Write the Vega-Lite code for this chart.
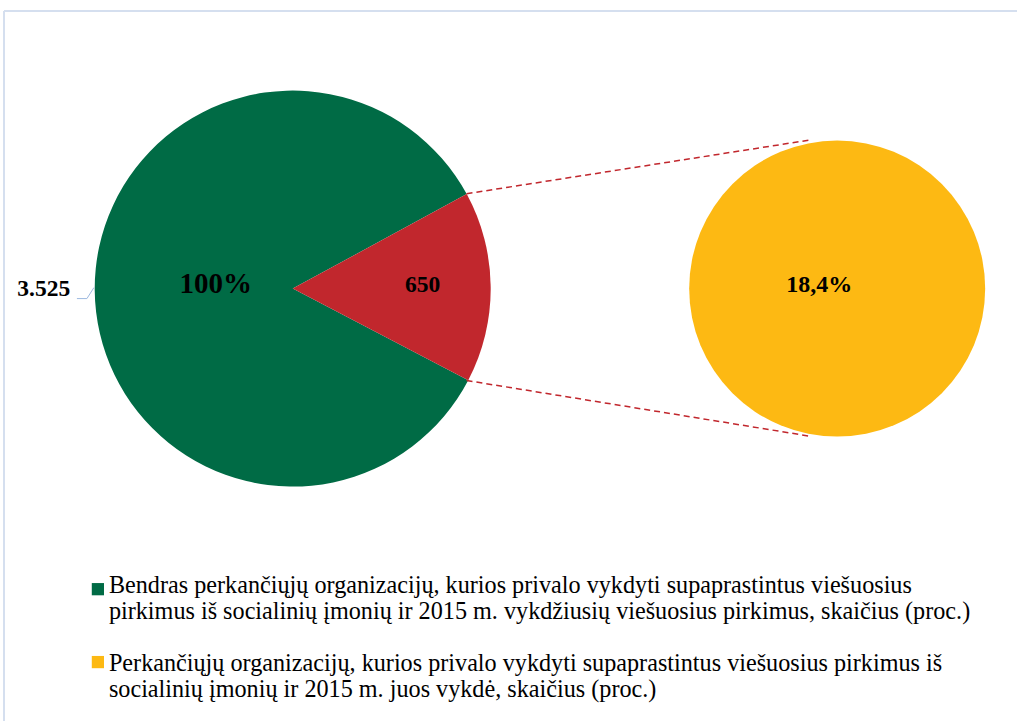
{
  "$schema": "https://vega.github.io/schema/vega-lite/v6.json",
  "width": 1018,
  "height": 722,
  "autosize": {"type": "fit", "contains": "padding"},
  "padding": 0,
  "background": "white",
  "config": {
    "view": {"stroke": null},
    "locale": {"number": {"decimal": ",", "thousands": ".", "grouping": [3], "currency": ["", " €"]}},
    "text": {"font": "Liberation Serif"}
  },
  "datasets": {
    "pagrindinis": [
      {"dalis": "Bendras", "reiksme": 3525, "proc": 1},
      {"dalis": "Vykdė", "reiksme": 650, "proc": 0.184}
    ],
    "antrinis": [
      {"dalis": "Vykdė", "reiksme": 650, "proc": 0.184}
    ],
    "legenda": [
      {"kategorija": "Bendras", "tekstas": "Bendras perkančiųjų organizacijų, kurios privalo vykdyti supaprastintus viešuosius\npirkimus iš socialinių įmonių ir 2015 m. vykdžiusių viešuosius pirkimus, skaičius (proc.)"},
      {"kategorija": "Vykdė", "tekstas": "Perkančiųjų organizacijų, kurios privalo vykdyti supaprastintus viešuosius pirkimus iš\nsocialinių įmonių ir 2015 m. juos vykdė, skaičius (proc.)"}
    ]
  },
  "resolve": {"scale": {"theta": "independent", "color": "independent"}},
  "layer": [
    {
      "data": {"values": [{}]},
      "mark": {"type": "rule", "color": "#D5DFEF", "strokeWidth": 2},
      "encoding": {
        "x": {"datum": 4, "type": "quantitative", "scale": {"domain": [0, 1018], "nice": false, "zero": false}, "axis": null},
        "y": {"datum": 11, "type": "quantitative", "scale": {"domain": [0, 722], "nice": false, "zero": false, "reverse": true}, "axis": null},
        "x2": {"datum": 1018},
        "y2": {"datum": 11}
      }
    },
    {
      "data": {"values": [{}]},
      "mark": {"type": "rule", "color": "#D5DFEF", "strokeWidth": 2},
      "encoding": {
        "x": {"datum": 4, "type": "quantitative"},
        "y": {"datum": 11, "type": "quantitative"},
        "x2": {"datum": 4},
        "y2": {"datum": 722}
      }
    },
    {
      "data": {"name": "pagrindinis"},
      "encoding": {
        "x": {"datum": 293, "type": "quantitative"},
        "y": {"datum": 289, "type": "quantitative"},
        "theta": {"field": "reiksme", "type": "quantitative", "stack": true, "scale": {"range": [2.0516, 8.3348]}},
        "order": {"field": "reiksme", "sort": "descending"}
      },
      "layer": [
        {
          "mark": {"type": "arc", "radius": 198},
          "encoding": {
            "color": {"field": "dalis", "type": "nominal", "scale": {"domain": ["Bendras", "Vykdė"], "range": ["#006B45", "#C1272D"]}, "legend": null}
          }
        },
        {
          "mark": {"type": "text", "radius": 77, "fontSize": 29, "fontWeight": "bold", "align": "center", "baseline": "alphabetic", "dy": 4, "color": "black"},
          "encoding": {
            "text": {"condition": {"test": "datum.dalis === 'Bendras'", "field": "proc", "type": "quantitative", "format": ".0%"}, "value": ""}
          }
        },
        {
          "mark": {"type": "text", "radius": 130, "fontSize": 23.5, "fontWeight": "bold", "align": "center", "baseline": "alphabetic", "dy": 4.5, "color": "black"},
          "encoding": {
            "text": {"condition": {"test": "datum.dalis === 'Vykdė'", "field": "reiksme", "type": "quantitative", "format": ",d"}, "value": ""}
          }
        },
        {
          "mark": {"type": "text", "radius": 249, "fontSize": 23.5, "fontWeight": "bold", "align": "center", "baseline": "alphabetic", "dy": 5, "color": "black"},
          "encoding": {
            "text": {"condition": {"test": "datum.dalis === 'Bendras'", "field": "reiksme", "type": "quantitative", "format": ",d"}, "value": ""}
          }
        }
      ]
    },
    {
      "data": {"name": "antrinis"},
      "encoding": {
        "x": {"datum": 838, "type": "quantitative"},
        "y": {"datum": 289, "type": "quantitative"}
      },
      "layer": [
        {
          "mark": {"type": "arc", "radius": 148, "color": "#FDB913"},
          "encoding": {
            "theta": {"field": "reiksme", "type": "quantitative"}
          }
        },
        {
          "mark": {"type": "text", "fontSize": 24, "fontWeight": "bold", "align": "center", "baseline": "alphabetic", "dx": -18, "dy": 3, "color": "black"},
          "encoding": {
            "text": {"field": "proc", "type": "quantitative", "format": ".1%"}
          }
        }
      ]
    },
    {
      "data": {"values": [{}]},
      "mark": {"type": "rule", "color": "#C1272D", "strokeWidth": 1.5, "strokeDash": [6, 4]},
      "encoding": {
        "x": {"datum": 467, "type": "quantitative"},
        "y": {"datum": 194, "type": "quantitative"},
        "x2": {"datum": 812},
        "y2": {"datum": 140}
      }
    },
    {
      "data": {"values": [{}]},
      "mark": {"type": "rule", "color": "#C1272D", "strokeWidth": 1.5, "strokeDash": [6, 4]},
      "encoding": {
        "x": {"datum": 467, "type": "quantitative"},
        "y": {"datum": 381, "type": "quantitative"},
        "x2": {"datum": 812},
        "y2": {"datum": 437}
      }
    },
    {
      "data": {"values": [{}]},
      "mark": {"type": "rule", "color": "#9DB9E0", "strokeWidth": 1},
      "encoding": {
        "x": {"datum": 77, "type": "quantitative"},
        "y": {"datum": 299, "type": "quantitative"},
        "x2": {"datum": 87},
        "y2": {"datum": 299}
      }
    },
    {
      "data": {"values": [{}]},
      "mark": {"type": "rule", "color": "#9DB9E0", "strokeWidth": 1},
      "encoding": {
        "x": {"datum": 87, "type": "quantitative"},
        "y": {"datum": 299, "type": "quantitative"},
        "x2": {"datum": 94},
        "y2": {"datum": 288}
      }
    },
    {
      "data": {"name": "legenda"},
      "transform": [{"filter": "datum.kategorija === 'Bendras'"}],
      "encoding": {
        "y": {"datum": 590, "type": "quantitative"}
      },
      "layer": [
        {
          "mark": {"type": "point", "shape": "square", "size": 150, "filled": true, "opacity": 1, "color": "#006B45"},
          "encoding": {"x": {"datum": 98, "type": "quantitative"}}
        },
        {
          "mark": {"type": "text", "fontSize": 24.2, "align": "left", "baseline": "alphabetic", "dy": 4, "lineBreak": "\n", "lineHeight": 26, "color": "black"},
          "encoding": {"x": {"datum": 109, "type": "quantitative"}, "text": {"field": "tekstas"}}
        }
      ]
    },
    {
      "data": {"name": "legenda"},
      "transform": [{"filter": "datum.kategorija === 'Vykdė'"}],
      "encoding": {
        "y": {"datum": 663, "type": "quantitative"}
      },
      "layer": [
        {
          "mark": {"type": "point", "shape": "square", "size": 150, "filled": true, "opacity": 1, "color": "#FDB913"},
          "encoding": {"x": {"datum": 98, "type": "quantitative"}}
        },
        {
          "mark": {"type": "text", "fontSize": 24.2, "align": "left", "baseline": "alphabetic", "dy": 9, "lineBreak": "\n", "lineHeight": 26, "color": "black"},
          "encoding": {"x": {"datum": 109, "type": "quantitative"}, "text": {"field": "tekstas"}}
        }
      ]
    }
  ]
}
